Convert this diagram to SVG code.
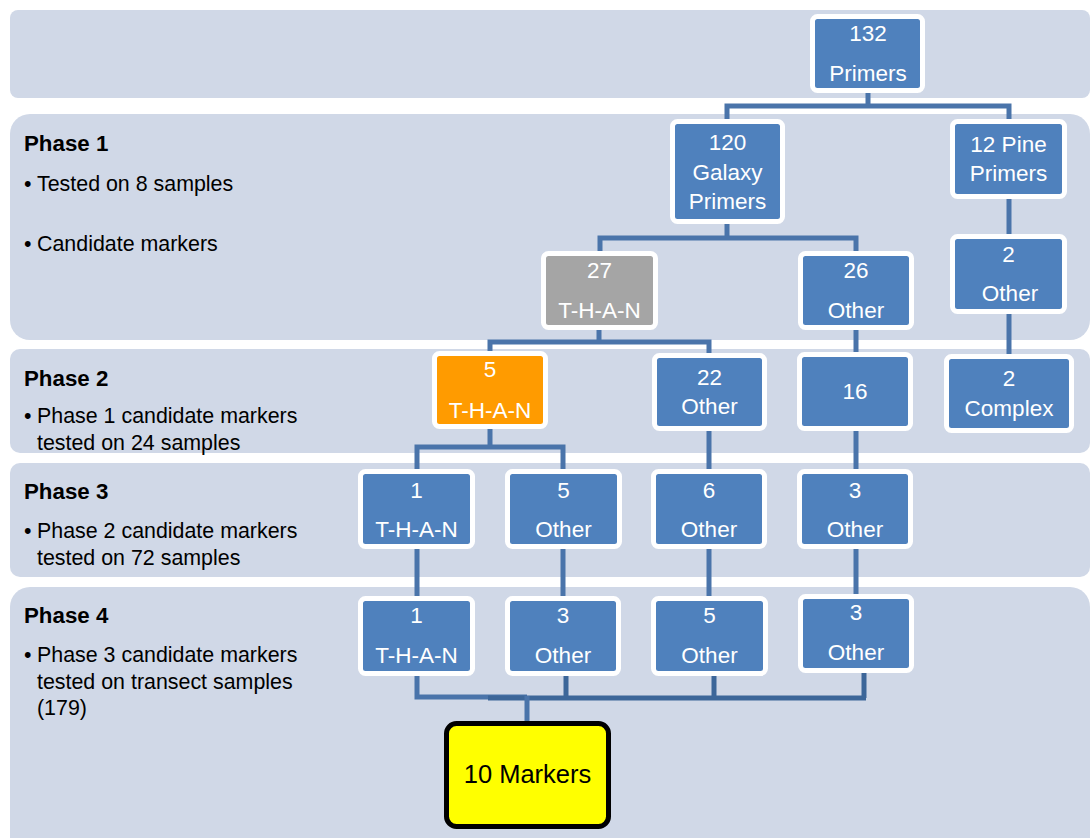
<svg xmlns="http://www.w3.org/2000/svg" width="1091" height="838" viewBox="0 0 1091 838">
  <defs>
    <style>
      .band { fill: #D0D8E7; }
      .node rect { stroke: #FFFFFF; stroke-width: 5; }
      .blue rect { fill: #4F81BD; }
      .grey rect { fill: #A5A5A5; }
      .orange rect { fill: #FF9B00; }
      .node text { fill: #FFFFFF; font-family: "Liberation Sans", Arial, sans-serif; font-size: 22.5px; text-anchor: middle; }
      .final rect { fill: #FFFF00; stroke: #000000; stroke-width: 5; }
      .final text { fill: #000000; font-family: "Liberation Sans", Arial, sans-serif; font-size: 25.5px; text-anchor: middle; }
      .conn { fill: none; stroke: #4A74AA; stroke-width: 5; stroke-linejoin: miter; stroke-linecap: butt; }
      .conn-dark { fill: none; stroke: #3C6699; stroke-width: 5; stroke-linecap: butt; }
      .title { font-family: "Liberation Sans", Arial, sans-serif; font-size: 22.3px; font-weight: bold; fill: #000000; }
      .note { font-family: "Liberation Sans", Arial, sans-serif; font-size: 21.4px; fill: #000000; }
    </style>
  </defs>

  <!-- phase bands -->
  <g id="bands">
    <rect class="band" x="10" y="10" width="1080" height="88" rx="8"/>
    <rect class="band" x="10" y="114" width="1080" height="226" rx="20"/>
    <rect class="band" x="10" y="349" width="1080" height="104" rx="10"/>
    <rect class="band" x="10" y="463" width="1080" height="114" rx="10"/>
    <rect class="band" x="10" y="587" width="1080" height="270" rx="20"/>
  </g>

  <!-- phase descriptions -->
  <g id="phase-labels">
    <text class="title" x="24" y="151">Phase 1</text>
    <text class="note" x="24" y="191">•</text><text class="note" x="37" y="191">Tested on 8 samples</text>
    <text class="note" x="24" y="251">•</text><text class="note" x="37" y="251">Candidate markers</text>

    <text class="title" x="24" y="386">Phase 2</text>
    <text class="note" x="24" y="423">•</text><text class="note" x="37" y="423">Phase 1 candidate markers</text>
    <text class="note" x="37" y="450">tested on 24 samples</text>

    <text class="title" x="24" y="499">Phase 3</text>
    <text class="note" x="24" y="538">•</text><text class="note" x="37" y="538">Phase 2 candidate markers</text>
    <text class="note" x="37" y="565">tested on 72 samples</text>

    <text class="title" x="24" y="623">Phase 4</text>
    <text class="note" x="24" y="662">•</text><text class="note" x="37" y="662">Phase 3 candidate markers</text>
    <text class="note" x="37" y="689">tested on transect samples</text>
    <text class="note" x="37" y="715">(179)</text>
  </g>

  <!-- connectors -->
  <g id="connectors">
    <path class="conn" d="M868,93 V106 M727,119 V106 H1009 V119"/>
    <path class="conn" d="M1009,199 V234"/>
    <path class="conn" d="M727,224 V238 M600,251 V238 H856 V251"/>
    <path class="conn" d="M599,330 V342 M490,351 V342 H709 V353"/>
    <path class="conn" d="M856,330 V352"/>
    <path class="conn" d="M1009,314 V354"/>
    <path class="conn" d="M490,429 V447 M417,469 V447 H563 V469"/>
    <path class="conn" d="M709,431 V469 M856,431 V469"/>
    <path class="conn" d="M417,549 V596 M563,549 V596 M709,549 V596 M856,549 V594"/>
    <path class="conn" d="M417,676 V697 H527"/>
    <path class="conn-dark" d="M566,676 V698 M714,676 V698 M864,673 V698 M488,698 H866"/>
    <path class="conn" d="M527,696 V721"/>
  </g>

  <!-- source primer set -->
  <g id="n132" class="node blue">
    <rect x="812.5" y="16.5" width="110" height="74" rx="5"/>
    <text x="868" y="41">132</text>
    <text x="868" y="81">Primers</text>
  </g>

  <!-- phase 1 -->
  <g id="n120" class="node blue">
    <rect x="672.5" y="121.5" width="110" height="100" rx="5"/>
    <text x="727.5" y="150">120</text>
    <text x="727.5" y="180">Galaxy</text>
    <text x="727.5" y="209">Primers</text>
  </g>
  <g id="n12pine" class="node blue">
    <rect x="952.5" y="121.5" width="112" height="75" rx="5"/>
    <text x="1008.5" y="152">12 Pine</text>
    <text x="1008.5" y="181">Primers</text>
  </g>
  <g id="n2other" class="node blue">
    <rect x="952.5" y="236.5" width="112" height="75" rx="5"/>
    <text x="1008.5" y="262">2</text>
    <text x="1010" y="301">Other</text>
  </g>
  <g id="n27than" class="node grey">
    <rect x="543.5" y="253.5" width="112" height="74" rx="5"/>
    <text x="599.5" y="278">27</text>
    <text x="599.5" y="318">T-H-A-N</text>
  </g>
  <g id="n26other" class="node blue">
    <rect x="800.5" y="253.5" width="111" height="74" rx="5"/>
    <text x="856" y="278">26</text>
    <text x="856" y="318">Other</text>
  </g>

  <!-- phase 2 -->
  <g id="n5than" class="node orange">
    <rect x="434.5" y="353.5" width="111" height="73" rx="5"/>
    <text x="490" y="377">5</text>
    <text x="490" y="418">T-H-A-N</text>
  </g>
  <g id="n22other" class="node blue">
    <rect x="654.5" y="355.5" width="110" height="73" rx="5"/>
    <text x="709.5" y="385">22</text>
    <text x="709.5" y="414">Other</text>
  </g>
  <g id="n16" class="node blue">
    <rect x="799.5" y="354.5" width="111" height="74" rx="5"/>
    <text x="855" y="399">16</text>
  </g>
  <g id="n2complex" class="node blue">
    <rect x="946.5" y="356.5" width="125" height="74" rx="5"/>
    <text x="1009" y="386">2</text>
    <text x="1009" y="416">Complex</text>
  </g>

  <!-- phase 3 -->
  <g id="n1than-p3" class="node blue">
    <rect x="360.5" y="471.5" width="112" height="75" rx="5"/>
    <text x="416.5" y="498">1</text>
    <text x="416.5" y="537">T-H-A-N</text>
  </g>
  <g id="n5other-p3" class="node blue">
    <rect x="507.5" y="471.5" width="112" height="75" rx="5"/>
    <text x="563.5" y="498">5</text>
    <text x="563.5" y="537">Other</text>
  </g>
  <g id="n6other-p3" class="node blue">
    <rect x="653.5" y="471.5" width="111" height="75" rx="5"/>
    <text x="709" y="498">6</text>
    <text x="709" y="537">Other</text>
  </g>
  <g id="n3other-p3" class="node blue">
    <rect x="799.5" y="471.5" width="111" height="75" rx="5"/>
    <text x="855" y="498">3</text>
    <text x="855" y="537">Other</text>
  </g>

  <!-- phase 4 -->
  <g id="n1than-p4" class="node blue">
    <rect x="360.5" y="598.5" width="112" height="75" rx="5"/>
    <text x="416.5" y="623">1</text>
    <text x="416.5" y="663">T-H-A-N</text>
  </g>
  <g id="n3other-p4" class="node blue">
    <rect x="507.5" y="598.5" width="111" height="75" rx="5"/>
    <text x="563" y="623">3</text>
    <text x="563" y="663">Other</text>
  </g>
  <g id="n5other-p4" class="node blue">
    <rect x="653.5" y="598.5" width="112" height="75" rx="5"/>
    <text x="709.5" y="623">5</text>
    <text x="709.5" y="663">Other</text>
  </g>
  <g id="n3other-p4b" class="node blue">
    <rect x="800.5" y="596.5" width="111" height="74" rx="5"/>
    <text x="856" y="620">3</text>
    <text x="856" y="660">Other</text>
  </g>

  <!-- final result -->
  <g id="n10markers" class="final">
    <rect x="446.5" y="723.5" width="162" height="103" rx="10"/>
    <text x="527.5" y="783">10 Markers</text>
  </g>
</svg>
